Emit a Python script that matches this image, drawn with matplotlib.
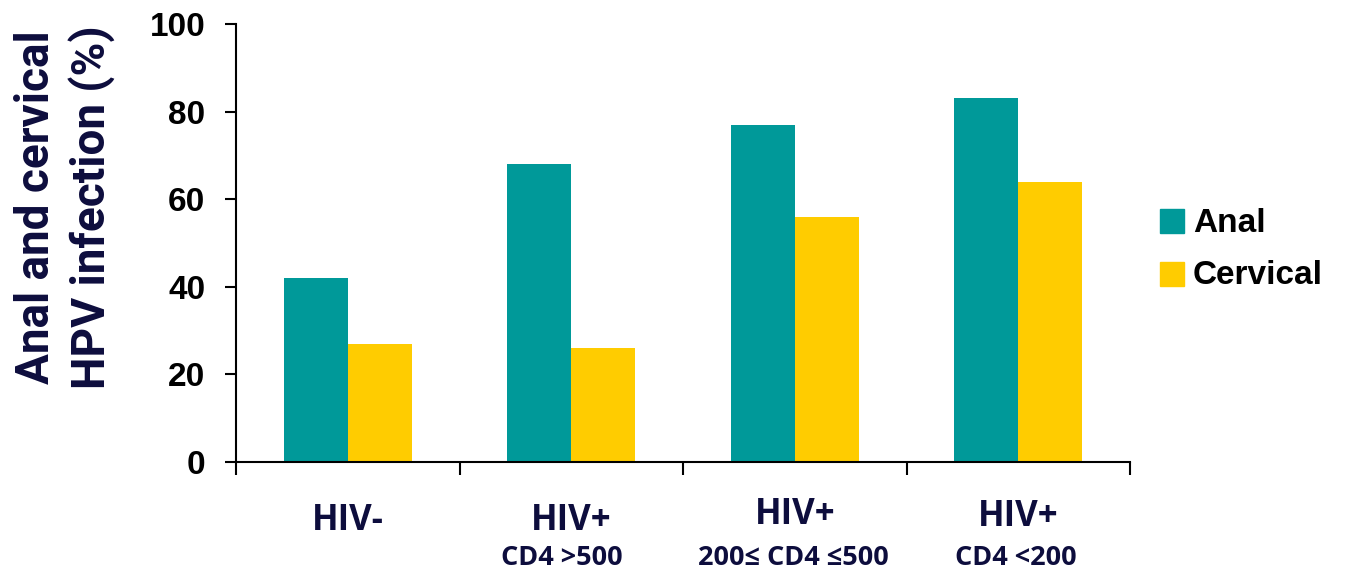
import matplotlib
matplotlib.use("Agg")
import matplotlib.pyplot as plt
from matplotlib.transforms import blended_transform_factory
from matplotlib.patches import Rectangle
import numpy as np

categories = ["HIV-", "HIV+", "HIV+", "HIV+"]
sublabels = ["", "CD4 >500", "200≤ CD4 ≤500", "CD4 <200"]
anal = [42, 68, 77, 83]
cervical = [27, 26, 56, 64]
series_names = ["Anal", "Cervical"]
yticks = [0, 20, 40, 60, 80, 100]

teal = "#009999"
yellow = "#FFCC00"
navy = "#0D0D3D"

W, H = 1352, 578
fig = plt.figure(figsize=(W/100, H/100), dpi=100)
ax = fig.add_axes([236/W, (H-462)/H, (1130-236)/W, (462-24)/H])

x = np.arange(len(categories))
w = 0.286
ax.bar(x - w/2, anal, w, color=teal, edgecolor="none")
ax.bar(x + w/2, cervical, w, color=yellow, edgecolor="none")

ax.set_xlim(-0.5, 3.5)
ax.set_ylim(0, 100)
for s in ["top", "right"]:
    ax.spines[s].set_visible(False)
for s in ["left", "bottom"]:
    ax.spines[s].set_linewidth(1.5)
    ax.spines[s].set_color("black")

ax.set_yticks(yticks)
ax.set_yticklabels([str(v) for v in yticks], fontsize=24, fontweight="bold",
                   family="Liberation Sans")
ax.tick_params(axis="y", length=8, width=1.5, direction="out", pad=14)
ax.set_xticks(np.arange(-0.5, 4.0, 1.0))
ax.set_xticklabels([])
ax.tick_params(axis="x", length=9, width=1.5, direction="out")

fig.text(65/W, (H-207)/H, "Anal and cervical\nHPV infection (%)", rotation=90,
         fontsize=33, fontweight="bold", color=navy, family="Roboto",
         ha="center", va="center", multialignment="center", linespacing=1.32)

main_y = [520.5, 520.5, 515.5, 517]
sub_dx = [0.0, -0.04, -0.007, -0.012]
tr = blended_transform_factory(ax.transData, fig.transFigure)
for i, (c, s) in enumerate(zip(categories, sublabels)):
    ax.text(i, (H-main_y[i])/H, c, transform=tr, ha="center", va="center", fontsize=25,
            fontweight="bold", color=navy, family="Open Sans")
    if s:
        ax.text(i + sub_dx[i], (H-558)/H, s, transform=tr, ha="center", va="center",
                fontsize=19.5, fontweight="bold", color=navy, family="Open Sans")

# legend
for name, col, yp in [(series_names[0], teal, 221), (series_names[1], yellow, 274)]:
    fig.patches.append(Rectangle((1160/W, (H-yp-12)/H), 24/W, 24/H,
                                 transform=fig.transFigure, color=col))
    fig.text(1193/W, (H-yp-2)/H, name, fontsize=24, fontweight="bold",
             family="Liberation Sans", va="center", ha="left", color="black")

fig.savefig("out.png", dpi=100)
